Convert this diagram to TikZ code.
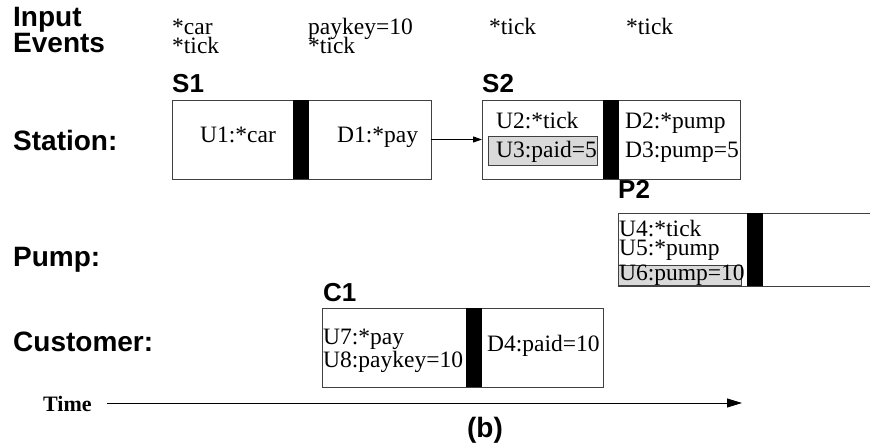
\documentclass[tikz,border=0pt]{standalone}
\usepackage{fontspec}
\setmainfont{Liberation Serif}
\newfontfamily\lsans{Liberation Sans}
\usetikzlibrary{arrows.meta}
\definecolor{hl}{HTML}{D9D9D9}
\definecolor{edge}{HTML}{404040}
\tikzset{
  lab/.style={anchor=base west, inner sep=0pt, font=\lsans\bfseries\fontsize{28}{25}\selectfont},
  pname/.style={anchor=base west, inner sep=0pt, font=\lsans\bfseries\fontsize{26}{26}\selectfont},
  ev/.style={anchor=base west, inner sep=0pt, font=\fontsize{23.5}{19}\selectfont},
  frame/.style={draw=edge, line width=0.9pt, anchor=north west, inner sep=0pt, outer sep=0pt},
  bar/.style={fill=black, draw=none, anchor=north west, inner sep=0pt, outer sep=0pt, minimum width=16pt},
  hlbox/.style={fill=hl, draw=edge, line width=0.8pt, anchor=north west, inner sep=0pt, outer sep=0pt},
  conn/.style={line width=0.9pt, -{Triangle[length=9pt,width=6pt]}},
}
\begin{document}
\begin{tikzpicture}[x=1pt,y=-1pt]
\useasboundingbox (0,0) rectangle (870,443);
% left labels
\node[lab] (inp) at (13,27) {Input};
\node[lab] (evt) at (13,53) {Events};
\node[lab] (sta) at (13,151) {Station:};
\node[lab] (pmp) at (13,267) {Pump:};
\node[lab] (cus) at (13,352) {Customer:};
% input events
\node[ev] (e1a) at (172,35) {*car};
\node[ev] (e1b) at (172,54) {*tick};
\node[ev] (e2a) at (308,35) {paykey=10};
\node[ev] (e2b) at (308,54) {*tick};
\node[ev] (e3) at (489,35) {*tick};
\node[ev] (e4) at (626,35) {*tick};
% S1
\node[pname] (s1l) at (172,93) {S1};
\node[frame, minimum width=259pt, minimum height=79pt] (s1) at (172,100) {};
\node[bar, minimum height=79pt] (s1bar) at (293,100) {};
\node[ev] (u1) at (200,143) {U1:*car};
\node[ev] (d1) at (337,143) {D1:*pay};
% S2
\node[pname] (s2l) at (482,93) {S2};
\node[frame, minimum width=258pt, minimum height=79pt] (s2) at (482,100) {};
\node[bar, minimum height=79pt] (s2bar) at (603,100) {};
\node[ev] (u2) at (496,129) {U2:*tick};
\node[hlbox, minimum width=109pt, minimum height=29pt] (u3box) at (488,136) {};
\node[ev] (u3) at (496,158) {U3:paid=5};
\node[ev] (d2) at (625,129) {D2:*pump};
\node[ev] (d3) at (625,158) {D3:pump=5};
\draw[conn] (s1.east) -- (s2.west);
% P2
\node[pname] (p2l) at (618,199) {P2};
\coordinate (p2tr) at (871,213);
\coordinate (p2br) at (871,286);
\coordinate (p2tl) at (618,213);
\coordinate (p2bl) at (618,286);
\draw[draw=edge, line width=0.9pt] (p2tr) -- (p2tl) -- (p2bl) -- (p2br);
\node[bar, minimum height=73pt] (p2bar) at (747,213) {};
\node[ev] (u4) at (619,237) {U4:*tick};
\node[ev] (u5) at (619,256) {U5:*pump};
\node[hlbox, minimum width=123pt, minimum height=20pt] (u6box) at (618,265) {};
\node[ev] (u6) at (619,281) {U6:pump=10};
% C1
\node[pname] (c1l) at (323,302) {C1};
\node[frame, minimum width=281pt, minimum height=79pt] (c1) at (322,308) {};
\node[bar, minimum height=79pt] (c1bar) at (466,308) {};
\node[ev] (u7) at (323,345) {U7:*pay};
\node[ev] (u8) at (323,368) {U8:paykey=10};
\node[ev] (d4) at (487,352) {D4:paid=10};
% time axis
\node[anchor=base west, inner sep=0pt, font=\bfseries\fontsize{22}{22}\selectfont] (time) at (43,411) {Time};
\coordinate (tstart) at (107,403);
\coordinate (tend) at (742,403);
\draw[line width=0.9pt, -{Triangle[length=15pt,width=9pt]}] (tstart) -- (tend);
\node[anchor=base, inner sep=0pt, font=\lsans\bfseries\fontsize{28}{28}\selectfont] (b) at (485,437) {(b)};
\end{tikzpicture}
\end{document}
